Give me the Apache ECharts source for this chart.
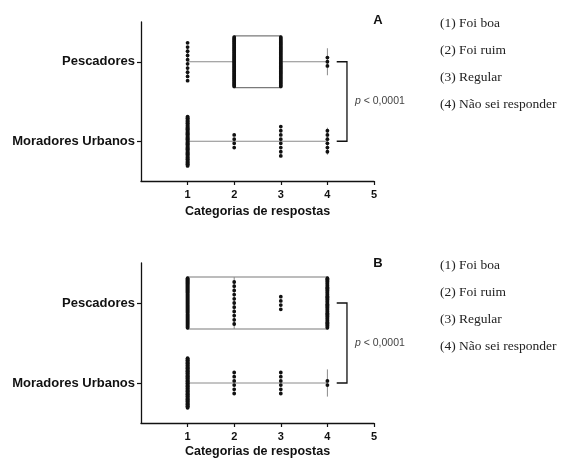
<!DOCTYPE html>
<html>
<head>
<meta charset="utf-8">
<title>Categorias de respostas</title>
<script src="https://cdn.jsdelivr.net/npm/echarts@6/dist/echarts.min.js"></script>
<style>
	html, body { margin: 0; padding: 0; background: #fff; }
	#chart { width: 563px; height: 458px; }
</style>
</head>
<body>
<div id="chart"></div>
<script>
// grupos, de cima para baixo
var groups = ['Pescadores', 'Moradores Urbanos'];
var answerLabels = ['(1) Foi boa', '(2) Foi ruim', '(3) Regular', '(4) Não sei responder'];
var panelLetters = ['A', 'B'];
var pText = 'p < 0,0001';
var axisTitle = 'Categorias de respostas';
var xTicks = [1, 2, 3, 4, 5];

// numero de respostas por categoria (1, 2, 3, 4)
var countsA_pesc = [10, 45, 40, 3];
var countsA_mor = [60, 4, 8, 6];
var countsB_pesc = [50, 11, 4, 45];
var countsB_mor = [70, 6, 6, 2];

// caixa: [min, q1, mediana, q3, max]
var boxA_pesc = [1, 2, 2, 3, 4];
var boxA_mor = [1, 1, 1, 1, 4];
var boxB_pesc = [1, 1, 2, 4, 4];
var boxB_mor = [1, 1, 1, 1, 4];

var panels = [
	{ counts: [countsA_pesc, countsA_mor], boxes: [boxA_pesc, boxA_mor] },
	{ counts: [countsB_pesc, countsB_mor], boxes: [boxB_pesc, boxB_mor] }
];

var INK = '#111';

// caixa com bigodes (min-max)
function renderBox(params, api) {
	var cat = api.value(0);
	var pMin = api.coord([api.value(1), cat]);
	var pQ1 = api.coord([api.value(2), cat]);
	var pMed = api.coord([api.value(3), cat]);
	var pQ3 = api.coord([api.value(4), cat]);
	var pMax = api.coord([api.value(5), cat]);
	var band = api.size([0, 1])[1];
	var h = band * 0.65, cap = band * 0.34;
	var y = pMin[1];
	var line = { stroke: '#8a8a8a', lineWidth: 1 };
	var children = [
		{ type: 'line', shape: { x1: pMin[0], y1: y, x2: pMax[0], y2: y }, style: line },
		{ type: 'line', shape: { x1: pMin[0], y1: y - cap / 2, x2: pMin[0], y2: y + cap / 2 }, style: line },
		{ type: 'line', shape: { x1: pMax[0], y1: y - cap / 2, x2: pMax[0], y2: y + cap / 2 }, style: line }
	];
	if (pQ3[0] > pQ1[0]) {
		children.push({ type: 'rect', shape: { x: pQ1[0], y: y - h / 2, width: pQ3[0] - pQ1[0], height: h },
			style: { fill: '#fff', stroke: '#7a7a7a', lineWidth: 1.2 } });
		children.push({ type: 'line', shape: { x1: pMed[0], y1: y - h / 2, x2: pMed[0], y2: y + h / 2 }, style: line });
	}
	return { type: 'group', children: children };
}

// pontos empilhados na vertical
function renderDots(params, api) {
	var c = api.coord([api.value(0), api.value(1)]);
	var n = api.value(2);
	var band = api.size([0, 1])[1];
	var step = n > 1 ? Math.min(4.2, band * 0.62 / (n - 1)) : 0;
	var children = [];
	for (var i = 0; i < n; i++) {
		children.push({ type: 'circle', shape: { cx: c[0], cy: c[1] + (i - (n - 1) / 2) * step, r: 1.9 },
			style: { fill: INK } });
	}
	return { type: 'group', children: children };
}

// colchete com o valor de p
function renderBracket(params, api) {
	var a = api.coord([4.2, api.value(0)]);
	var b = api.coord([4.42, api.value(1)]);
	return {
		type: 'group',
		children: [
			{ type: 'polyline', shape: { points: [[a[0], a[1]], [b[0], a[1]], [b[0], b[1]], [a[0], b[1]]] },
				style: { stroke: INK, lineWidth: 1.3, fill: null } },
			{ type: 'text', x: b[0] + 8, y: (a[1] + b[1]) / 2,
				style: { text: '{i|p}' + pText.slice(1), verticalAlign: 'middle', fill: '#444',
					font: '10.5px "Liberation Sans"',
					rich: { i: { fontStyle: 'italic', fontSize: 10.5, fontFamily: 'Liberation Sans', fill: '#444' } } } }
		]
	};
}

var grids = [
	{ left: 141, top: 22, width: 233, height: 159, outerBoundsMode: 'none' },
	{ left: 141, top: 263, width: 233, height: 160, outerBoundsMode: 'none' }
];

var xAxes = [], yAxes = [], series = [], graphics = [];
var letterY = [20, 263];
var legendTop = [23, 265];
var nameGaps = [24, 22];

panels.forEach(function(p, k) {
	xAxes.push({
		type: 'value', gridIndex: k, min: 0, max: 5, interval: 1,
		name: axisTitle, nameLocation: 'middle', nameGap: nameGaps[k],
		nameTextStyle: { fontFamily: 'Liberation Sans', fontWeight: 'bold', fontSize: 12.5, color: INK },
		splitLine: { show: false },
		axisLine: { show: true, lineStyle: { color: INK, width: 1.3 } },
		axisTick: { show: true, customValues: xTicks, length: 4, lineStyle: { color: INK, width: 1.2 } },
		axisLabel: { margin: 8, customValues: xTicks, fontFamily: 'Liberation Sans', fontWeight: 'bold', fontSize: 11, color: INK }
	});
	yAxes.push({
		type: 'category', gridIndex: k, data: groups, inverse: true,
		axisLine: { show: true, lineStyle: { color: INK, width: 1.3 } },
		axisTick: { show: true, alignWithLabel: true, length: 4, lineStyle: { color: INK, width: 1.2 } },
		axisLabel: { margin: 6, fontFamily: 'Liberation Sans', fontWeight: 'bold', fontSize: 13, color: INK }
	});

	var boxData = p.boxes.map(function(b, g) { return [g].concat(b); });
	var dotData = [];
	p.counts.forEach(function(c, g) {
		c.forEach(function(n, j) { dotData.push([j + 1, g, n]); });
	});

	series.push({
		type: 'custom', xAxisIndex: k, yAxisIndex: k, renderItem: renderBox, clip: false,
		encode: { x: [1, 2, 3, 4, 5], y: 0 }, data: boxData, silent: true
	});
	series.push({
		type: 'custom', xAxisIndex: k, yAxisIndex: k, renderItem: renderDots, clip: false,
		encode: { x: 0, y: 1 }, data: dotData, silent: true, z: 3
	});
	series.push({
		type: 'custom', xAxisIndex: k, yAxisIndex: k, renderItem: renderBracket, clip: false,
		encode: { y: [0, 1] }, data: [[0, 1]], silent: true
	});

	graphics.push({
		type: 'text', x: 378, y: letterY[k],
		style: { text: panelLetters[k], font: 'bold 13px "Liberation Sans"', fill: INK, align: 'center', verticalAlign: 'middle' }
	});
	answerLabels.forEach(function(t, j) {
		graphics.push({
			type: 'text', x: 440, y: legendTop[k] + j * 27.3,
			style: { text: t, font: '13.5px "Liberation Serif"', fill: '#222', verticalAlign: 'middle' }
		});
	});
});

var chart = echarts.init(document.getElementById('chart'));
chart.setOption({
	animation: false,
	grid: grids,
	xAxis: xAxes,
	yAxis: yAxes,
	series: series,
	graphic: graphics
});
</script>
</body>
</html>
